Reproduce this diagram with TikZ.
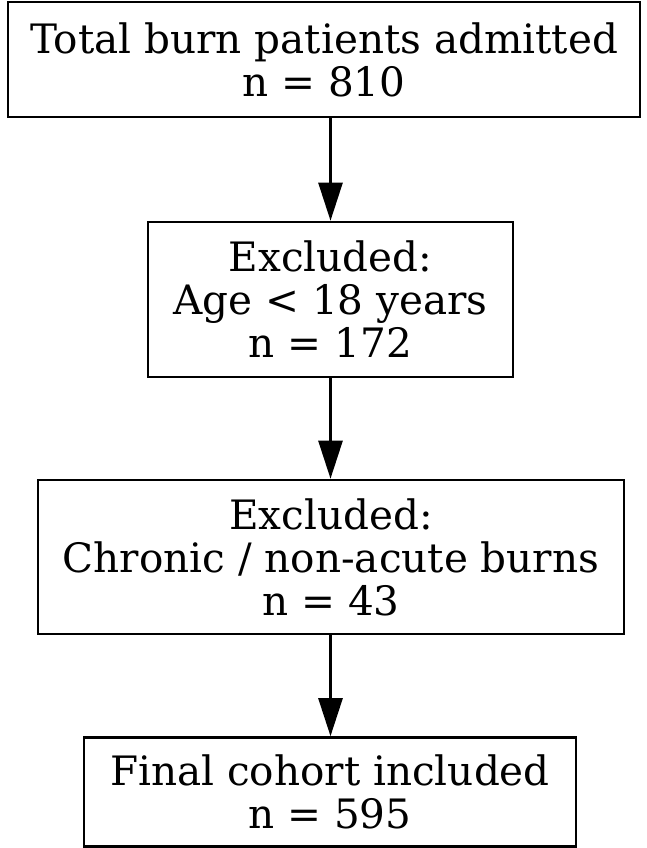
\documentclass[tikz,border=0pt]{standalone}
\usepackage{fontspec}
\setmainfont{DejaVu Serif}
\usetikzlibrary{arrows.meta}
\begin{document}
\begin{tikzpicture}[x=1pt,y=-1pt,
 box/.style={draw, line width=2.6pt, align=center, inner sep=0pt, font=\fontsize{40.5}{43}\selectfont},
 arr/.style={line width=2.6pt, -{Triangle[length=38pt,width=24pt]}}]
\useasboundingbox (0,0) rectangle (647,848);
\node[box, minimum width=632pt, minimum height=115pt] (b1) at (324,59.5) {Total burn patients admitted\\n = 810};
\node[box, minimum width=365pt, minimum height=155pt] (b2) at (330.5,299.5) {Excluded:\\Age < 18 years\\n = 172};
\node[box, minimum width=586pt, minimum height=154pt] (b3) at (331,557) {Excluded:\\Chronic / non-acute burns\\n = 43};
\node[box, minimum width=492pt, minimum height=109pt] (b4) at (330,792) {Final cohort included\\n = 595};
\draw[arr] (b1.south -| b2.north) -- (b2.north);
\draw[arr] (b2.south) -- (b2.south |- b3.north);
\draw[arr] (b2.south |- b3.south) -- (b2.south |- b4.north);
\end{tikzpicture}
\end{document}
